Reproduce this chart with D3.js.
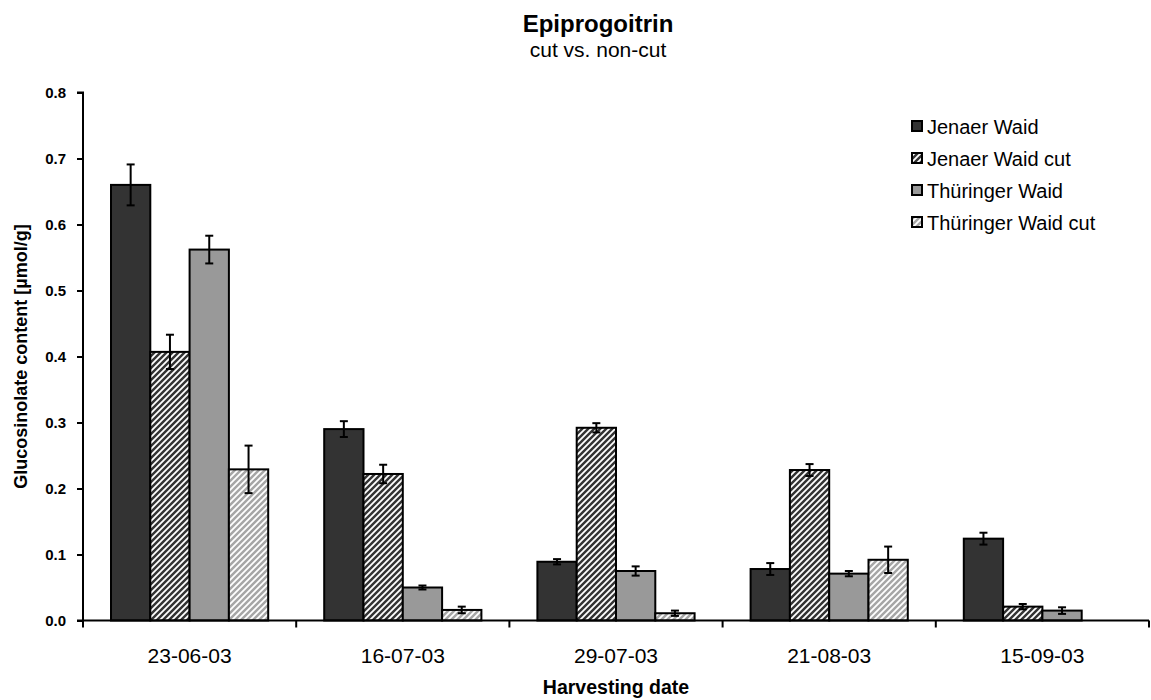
<!DOCTYPE html>
<html><head><meta charset="utf-8">
<script src="https://cdn.jsdelivr.net/npm/d3@7"></script>
<style>body{margin:0;background:#fff;} svg{display:block;font-family:"Liberation Sans",Arial,sans-serif;}</style>
</head><body>
<script>
const categories = ["23-06-03","16-07-03","29-07-03","21-08-03","15-09-03"];
const seriesNames = ["Jenaer Waid","Jenaer Waid cut","Thüringer Waid","Thüringer Waid cut"];
const jenaer      = [0.660, 0.290, 0.089, 0.078, 0.124];
const jenaerCut   = [0.407, 0.222, 0.292, 0.228, 0.021];
const thuringer   = [0.562, 0.050, 0.075, 0.071, 0.015];
const thuringerCut= [0.229, 0.016, 0.011, 0.092, 0];
const jenaerErr      = [0.031, 0.012, 0.004, 0.009, 0.009];
const jenaerCutErr   = [0.026, 0.014, 0.007, 0.009, 0.004];
const thuringerErr   = [0.021, 0.003, 0.007, 0.004, 0.005];
const thuringerCutErr= [0.036, 0.005, 0.004, 0.020, 0];
const yTicks = [0,0.1,0.2,0.3,0.4,0.5,0.6,0.7,0.8];

const values = [jenaer, jenaerCut, thuringer, thuringerCut];
const errs = [jenaerErr, jenaerCutErr, thuringerErr, thuringerCutErr];
const fills = ["#333333","url(#hatchDark)","#999999","url(#hatchLight)"];

const W=1151,H=700;
const svg=d3.select("body").append("svg").attr("width",W).attr("height",H);
const defs=svg.append("defs");
function hatch(id,bg){
  const s=6;
  const p=defs.append("pattern").attr("id",id).attr("patternUnits","userSpaceOnUse").attr("width",s).attr("height",s);
  p.append("rect").attr("width",s).attr("height",s).attr("fill",bg);
  p.append("path").attr("d",`M0,${s} L${s},0 M-1,1 L1,-1 M${s-1},${s+1} L${s+1},${s-1}`).attr("stroke","#fff").attr("stroke-width",1.8);
}
hatch("hatchDark","#333333");
hatch("hatchLight","#a6a6a6");

const x0=d3.scaleBand().domain(categories).range([83,1149]).paddingInner(0).paddingOuter(0);
const x1=d3.scaleBand().domain(d3.range(4)).range([28, x0.bandwidth()-28]);
const y=d3.scaleLinear().domain([0,0.8]).range([620.5,92.5]);

// title
svg.append("text").attr("x",598).attr("y",32).attr("text-anchor","middle").attr("font-weight","bold").attr("font-size",24).text("Epiprogoitrin");
svg.append("text").attr("x",598).attr("y",57).attr("text-anchor","middle").attr("font-size",21).text("cut vs. non-cut");

// bars
const g=svg.append("g");
categories.forEach((c,ci)=>{
  values.forEach((s,si)=>{
    const v=s[ci];
    if(!v) return;
    const bx=x0(c)+x1(si);
    g.append("rect").attr("x",bx).attr("y",y(v)).attr("width",x1.bandwidth()).attr("height",y(0)-y(v))
      .attr("fill",fills[si]).attr("stroke","#000").attr("stroke-width",2);
    const e=errs[si][ci];
    const cx=bx+x1.bandwidth()/2;
    const eg=g.append("g").attr("stroke","#000").attr("stroke-width",2);
    eg.append("line").attr("x1",cx).attr("x2",cx).attr("y1",y(v+e)).attr("y2",y(v-e));
    eg.append("line").attr("x1",cx-4).attr("x2",cx+4).attr("y1",y(v+e)).attr("y2",y(v+e));
    eg.append("line").attr("x1",cx-4).attr("x2",cx+4).attr("y1",y(v-e)).attr("y2",y(v-e));
  });
});

// y axis
const ya=svg.append("g").attr("transform","translate(83,0)")
  .call(d3.axisLeft(y).tickValues(yTicks).tickFormat(d3.format(".1f")).tickSize(6).tickPadding(11));
ya.select(".domain").attr("stroke","#000").attr("stroke-width",2).attr("d","M-6,"+y(0.8)+"H0V"+y(0)+"H-6");
ya.selectAll(".tick line").attr("stroke","#000").attr("stroke-width",2);
ya.selectAll("text").attr("font-size",15).attr("font-weight","bold").attr("fill","#000").attr("font-family","Liberation Sans, Arial, sans-serif");

// x axis
const xa=svg.append("g").attr("transform","translate(0,"+y(0)+")");
xa.append("line").attr("x1",83).attr("x2",1149).attr("stroke","#000").attr("stroke-width",2);
const bounds=categories.map(c=>x0(c)).concat([x0(categories[categories.length-1])+x0.bandwidth()]);
xa.selectAll(".bt").data(bounds).enter().append("line").attr("x1",d=>d).attr("x2",d=>d).attr("y1",0).attr("y2",7).attr("stroke","#000").attr("stroke-width",2);
xa.selectAll(".lab").data(categories).enter().append("text").attr("x",d=>x0(d)+x0.bandwidth()/2).attr("y",42.5)
  .attr("text-anchor","middle").attr("font-size",21).text(d=>d);

// axis titles
svg.append("text").attr("x",616).attr("y",694).attr("text-anchor","middle").attr("font-weight","bold").attr("font-size",19.5).text("Harvesting date");
svg.append("text").attr("transform","translate(27,356.5) rotate(-90)").attr("text-anchor","middle").attr("font-weight","bold").attr("font-size",18).text("Glucosinolate content [µmol/g]");

// legend
const lg=svg.append("g").attr("transform","translate(912,0)");
seriesNames.forEach((n,i)=>{
  const ly=134+i*32;
  lg.append("rect").attr("x",0).attr("y",ly-13).attr("width",10).attr("height",10).attr("fill",fills[i]).attr("stroke","#000").attr("stroke-width",2);
  lg.append("text").attr("x",15).attr("y",ly).attr("font-size",20).text(n);
});
</script>
</body></html>
